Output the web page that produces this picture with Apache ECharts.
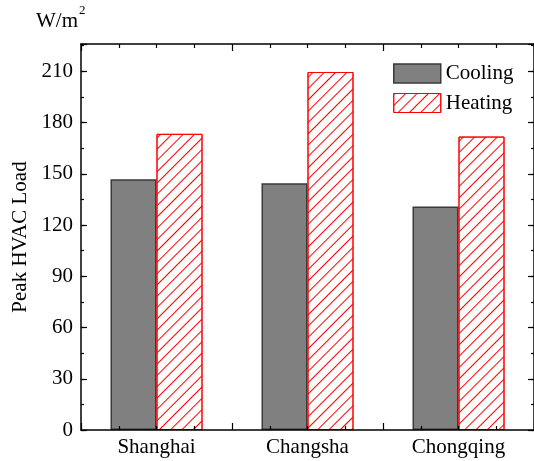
<!DOCTYPE html>
<html>
<head>
<meta charset="utf-8">
<script src="https://cdn.jsdelivr.net/npm/echarts@6/dist/echarts.min.js"></script>
<style>
html,body{margin:0;padding:0;background:#fff;}
#chart{width:534px;height:461px;}
</style>
</head>
<body>
<div id="chart"></div>
<script>
var categories = ['Shanghai', 'Changsha', 'Chongqing'];
var coolingValues = [146.8, 144.5, 130.8];
var heatingValues = [173.4, 209.6, 171.8];
var yTicks = [0, 30, 60, 90, 120, 150, 180, 210];

var FONT = 'Liberation Serif';

var hatchDecal = {
  symbol: 'rect', symbolSize: 1, color: '#ff0000',
  dashArrayX: [1, 0], dashArrayY: [1, 7],
  rotation: -Math.PI / 4
};

var chart = echarts.init(document.getElementById('chart'), null, { renderer: 'canvas' });

var yMax = 226;
function valueXAxis(pos) {
  return {
    type: 'value', position: pos, gridIndex: 0, min: 0, max: 3, interval: 1, z: 5,
    axisLine: { show: true, onZero: false, lineStyle: { color: '#000', width: 1.5 } },
    axisTick: { show: true, inside: true, length: 7, lineStyle: { color: '#000', width: 1.2 } },
    minorTick: { show: true, splitNumber: 4, length: 4, lineStyle: { color: '#000', width: 1.2 } },
    axisLabel: { show: false }, splitLine: { show: false }
  };
}
function majorYAxis(pos, labels) {
  return {
    type: 'value', position: pos, min: 0, max: yMax, interval: 30, z: 5,
    name: labels ? 'Peak HVAC Load' : '',
    nameLocation: 'middle', nameGap: 50,
    nameTextStyle: { fontFamily: FONT, fontSize: 21, color: '#000' },
    axisLine: { show: true, onZero: false, lineStyle: { color: '#000', width: 1.5 } },
    axisTick: { show: true, inside: true, length: 6, lineStyle: { color: '#000', width: 1.2 } },
    axisLabel: {
      show: labels, margin: 8, fontFamily: FONT, fontSize: 21, color: '#000',
      formatter: function (v) { return yTicks.indexOf(v) >= 0 ? String(v) : ''; }
    },
    splitLine: { show: false }
  };
}
function minorYAxis(pos) {
  return {
    type: 'value', position: pos, min: 0, max: yMax, interval: 15, z: 5,
    axisLine: { show: false, onZero: false },
    axisTick: { show: true, inside: true, length: 3, lineStyle: { color: '#000', width: 1.2 } },
    axisLabel: { show: false }, splitLine: { show: false }
  };
}

chart.setOption({
  animation: false,
  backgroundColor: '#fff',
  grid: { left: 81, right: 0, top: 44, bottom: 31, containLabel: false },
  legend: {
    orient: 'vertical', left: 393, top: 63, padding: 0,
    itemWidth: 47, itemHeight: 19, itemGap: 8.5,
    icon: 'rect',
    textStyle: { fontFamily: FONT, fontSize: 21, color: '#000' },
    data: [
      { name: 'Cooling', itemStyle: { borderColor: '#3a3a3a', borderWidth: 1.5 } },
      { name: 'Heating', itemStyle: { borderColor: '#ff0000', borderWidth: 1 } }
    ]
  },
  xAxis: [
    {
      type: 'category', data: categories, position: 'bottom', boundaryGap: true,
      axisLine: { show: false, onZero: false }, axisTick: { show: false },
      axisLabel: { margin: 7, fontFamily: FONT, fontSize: 21, color: '#000' },
      splitLine: { show: false }
    },
    valueXAxis('bottom'),
    valueXAxis('top')
  ],
  yAxis: [
    majorYAxis('left', true),
    minorYAxis('left'),
    majorYAxis('right', false),
    minorYAxis('right')
  ],
  graphic: [
    { type: 'text', left: 36, top: 11, style: { text: 'W/m', fontFamily: FONT, fontSize: 21, fill: '#000' } },
    { type: 'text', left: 79, top: 4, style: { text: '2', fontFamily: FONT, fontSize: 13, fill: '#000' } }
  ],
  series: [
    {
      name: 'Cooling', type: 'bar', xAxisIndex: 0, yAxisIndex: 0,
      data: coolingValues, barWidth: 46, barGap: '0%',
      itemStyle: { color: '#808080', borderColor: '#3a3a3a', borderWidth: 1.5 }
    },
    {
      name: 'Heating', type: 'bar', xAxisIndex: 0, yAxisIndex: 0,
      data: heatingValues, barWidth: 46, barGap: '0%',
      itemStyle: { color: '#ffffff', borderColor: '#ff0000', borderWidth: 1, decal: hatchDecal }
    }
  ]
});
</script>
</body>
</html>
